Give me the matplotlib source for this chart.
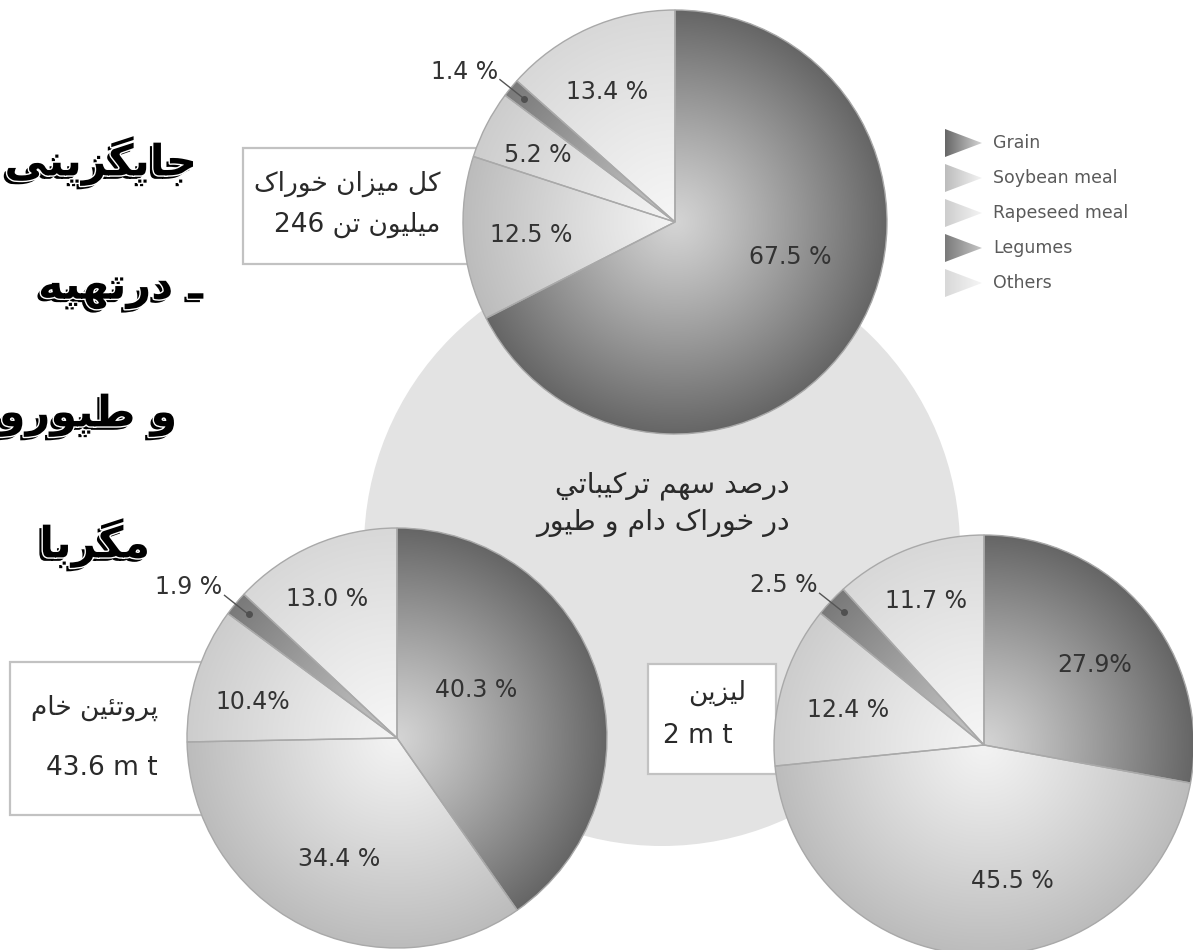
import re
import numpy as np
import matplotlib
matplotlib.use('Agg')
import matplotlib.pyplot as plt
import matplotlib.patheffects as pe
from matplotlib.patches import Circle, Rectangle, Polygon
from matplotlib.colors import LinearSegmentedColormap

# ---- data (shares in %) ----
categories = ['Grain', 'Soybean meal', 'Rapeseed meal', 'Legumes', 'Others']
total_feed = [67.5, 12.5, 5.2, 1.4, 13.4]
crude_protein = [40.3, 34.4, 10.4, 1.9, 13.0]
lysine = [27.9, 45.5, 12.4, 2.5, 11.7]

total_feed_labels = ['67.5 %', '12.5 %', '5.2 %', '1.4 %', '13.4 %']
crude_protein_labels = ['40.3 %', '34.4 %', '10.4%', '1.9 %', '13.0 %']
lysine_labels = ['27.9%', '45.5 %', '12.4 %', '2.5 %', '11.7 %']

total_feed_box = ['کل میزان خوراک', 'میلیون تن 246']
crude_protein_box = ['پروتئین خام', '43.6 m t']
lysine_box = ['لیزین', '2 m t']
center_text = ['درصد سهم ترکیباتي', 'در خوراک دام و طیور']
title_lines = ['جایگزینی', 'ـ درتهیه', 'و طیورو', 'مگربا']

# gradient colours per category: (centre, rim)
shades = [('#d4d4d4', '#666666'),
          ('#f3f3f3', '#bcbcbc'),
          ('#f4f4f4', '#cdcdcd'),
          ('#c6c6c6', '#7a7a7a'),
          ('#f6f6f6', '#d8d8d8')]

# ---- minimal persian shaping (matplotlib has no bidi / joining) ----
DUAL = {'ب': 0xFE8F, 'ت': 0xFE95, 'ث': 0xFE99, 'ج': 0xFE9D, 'ح': 0xFEA1, 'خ': 0xFEA5,
        'س': 0xFEB1, 'ش': 0xFEB5, 'ص': 0xFEB9, 'ض': 0xFEBD, 'ط': 0xFEC1, 'ظ': 0xFEC5,
        'ع': 0xFEC9, 'غ': 0xFECD, 'ف': 0xFED1, 'ق': 0xFED5, 'ك': 0xFED9, 'ل': 0xFEDD,
        'م': 0xFEE1, 'ن': 0xFEE5, 'ه': 0xFEE9, 'ي': 0xFEF1, 'ئ': 0xFE89,
        'پ': 0xFB56, 'چ': 0xFB7A, 'ک': 0xFB8E, 'گ': 0xFB92, 'ی': 0xFBFC}
RIGHT = {'ا': 0xFE8D, 'آ': 0xFE81, 'د': 0xFEA9, 'ذ': 0xFEAB, 'ر': 0xFEAD, 'ز': 0xFEAF,
         'و': 0xFEED, 'ژ': 0xFB8A, 'ة': 0xFE93}


def fa(text):
    if not any(c in DUAL or c in RIGHT for c in text):
        return text
    out = []
    for i, ch in enumerate(text):
        if ch not in DUAL and ch not in RIGHT:
            out.append(ch)
            continue
        prev_ok = i > 0 and (text[i - 1] in DUAL or text[i - 1] == 'ـ')
        nxt = text[i + 1] if i + 1 < len(text) else ''
        next_ok = ch in DUAL and (nxt in DUAL or nxt in RIGHT or nxt == 'ـ')
        base = DUAL.get(ch, RIGHT.get(ch))
        k = 3 if (prev_ok and next_ok) else 1 if prev_ok else 2 if next_ok else 0
        out.append(chr(base + k))
    s = ''.join(out)[::-1]
    # numbers / latin keep left-to-right order
    return re.sub(r'[0-9A-Za-z.%]+(?: [0-9A-Za-z.%]+)*', lambda m: m.group(0)[::-1], s)


W, H = 1193, 950
fig = plt.figure(figsize=(W / 100, H / 100), dpi=100)
ax = fig.add_axes([0, 0, 1, 1])
ax.set_facecolor('white')

# big grey disc behind the three pies
ax.add_patch(Circle((662, 548), 298, facecolor='#e3e3e3', edgecolor='none', zorder=1))

# title (cut off at the right like the page)
clip = Rectangle((0, 0), 201, H, transform=ax.transData)
for txt, xr, yc in zip(title_lines, [197, 203, 177, 150], [161, 288, 415, 543]):
    t = ax.text(xr, yc, fa(txt), ha='right', va='center', fontsize=31,
                fontweight='bold', family='DejaVu Sans', color='black', zorder=2,
                path_effects=[pe.SimplePatchShadow(offset=(-2.5, -2.5), shadow_rgbFace='black', alpha=1),
                              pe.Stroke(linewidth=2, foreground='white'), pe.Normal()])
    t.set_clip_path(clip)

g = np.linspace(-1, 1, 300)
gx, gy = np.meshgrid(g, g)
radial = np.clip(np.hypot(gx, gy), 0, 1) ** 1.1
cmaps = [LinearSegmentedColormap.from_list(c, s) for c, s in zip(categories, shades)]


def draw_pie(values, labels, center, radius, lab_pos, box, box_lines):
    cx, cy = center
    # white box sitting under the pie
    bx, by, bw, bh = box
    ax.add_patch(Rectangle((bx, by), bw, bh, facecolor='white', edgecolor='#c2c2c2',
                           linewidth=1.6, zorder=2))
    for txt, tx, ty, ha in box_lines:
        ax.text(tx, ty, fa(txt), ha=ha, va='center', fontsize=19, color='#2a2a2a',
                family='DejaVu Sans', zorder=2.5)

    wedges, _ = ax.pie(values, colors=[s[1] for s in shades], startangle=-90,
                       counterclock=True, center=center, radius=radius, frame=True,
                       wedgeprops=dict(linewidth=0, zorder=3))
    for w, cm in zip(wedges, cmaps):
        im = ax.imshow(radial, cmap=cm, vmin=0, vmax=1, interpolation='bilinear',
                       extent=(cx - radius, cx + radius, cy + radius, cy - radius), zorder=3.5)
        im.set_clip_path(w)
    ax.pie(values, startangle=-90, counterclock=True, center=center, radius=radius,
           frame=True, wedgeprops=dict(fill=False, edgecolor='#a9a9a9', linewidth=1, zorder=4))

    for i, (w, lab) in enumerate(zip(wedges, labels)):
        mid = np.deg2rad((w.theta1 + w.theta2) / 2)
        if categories[i] == 'Legumes':
            dx, dy = cx + 0.92 * radius * np.cos(mid), cy + 0.92 * radius * np.sin(mid)
            ax.plot([dx - 24, dx], [dy - 19, dy], color='#555555', lw=1, zorder=5)
            ax.plot(dx, dy, 'o', ms=4, color='#505050', zorder=5)
            ax.text(dx - 26, dy - 27, lab, ha='right', va='center', fontsize=17,
                    color='#333333', family='DejaVu Sans', zorder=5)
            continue
        dist, turn = lab_pos[i]
        a = mid - np.deg2rad(turn)
        ax.text(cx + dist * radius * np.cos(a), cy + dist * radius * np.sin(a), lab,
                ha='center', va='center', fontsize=17, color='#333333',
                family='DejaVu Sans', zorder=5)


draw_pie(total_feed, total_feed_labels, (675, 222), 212,
         [(0.57, 14.6), (0.68, 0.7), (0.72, 1.3), None, (0.69, 3.5)],
         (243, 148, 250, 116),
         [(total_feed_box[0], 440, 184, 'right'), (total_feed_box[1], 440, 225, 'right')])
draw_pie(crude_protein, crude_protein_labels, (397, 738), 210,
         [(0.44, 14.0), (0.64, 1.5), (0.71, 3.6), None, (0.74, 3.2)],
         (10, 662, 225, 153),
         [(crude_protein_box[0], 158, 708, 'right'), (crude_protein_box[1], 158, 768, 'right')])
draw_pie(lysine, lysine_labels, (984, 745), 210,
         [(0.65, -4.0), (0.66, 14.0), (0.67, 2.2), None, (0.74, 0.8)],
         (648, 664, 128, 110),
         [(lysine_box[0], 746, 693, 'right'), (lysine_box[1], 663, 736, 'left')])

# centre caption
for txt, yc in zip(center_text, [486, 523]):
    ax.text(790, yc, fa(txt), ha='right', va='center', fontsize=20.5, color='#2a2a2a',
            family='DejaVu Sans', zorder=2)

# legend: shaded pointers + names
lg = np.tile(np.linspace(1, 0, 200), (20, 1))
for i, (name, cm) in enumerate(zip(categories, cmaps)):
    yc = 143 + i * 35
    tri = Polygon([(945, yc - 14), (945, yc + 14), (982, yc)], closed=True,
                  facecolor='none', edgecolor='none', zorder=3)
    ax.add_patch(tri)
    im = ax.imshow(lg, cmap=cm, vmin=0, vmax=1, extent=(945, 982, yc + 14, yc - 14), zorder=3)
    im.set_clip_path(tri)
    ax.text(993, yc, name, ha='left', va='center', fontsize=12.5, color='#5a5a5a',
            family='DejaVu Sans', zorder=3)

ax.set_xlim(0, W)
ax.set_ylim(H, 0)
ax.set_aspect('auto')
ax.axis('off')
fig.savefig('out.png', dpi=100, facecolor='white')
